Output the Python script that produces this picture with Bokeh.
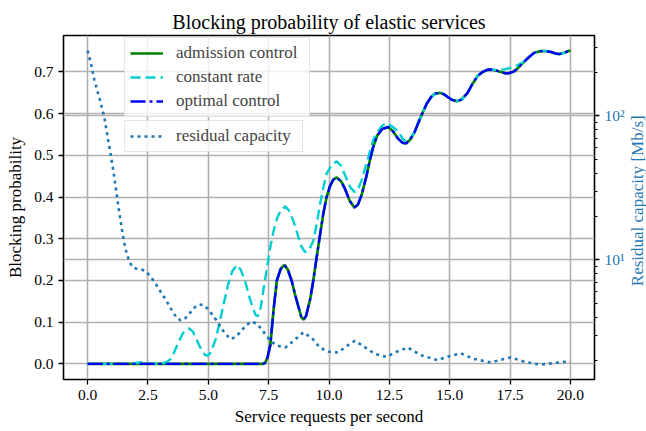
import math
from bokeh.plotting import figure
from bokeh.layouts import row
from bokeh.models import (Range1d, LogScale, LogAxis, FixedTicker, Legend, LegendItem,
                          Grid, PrintfTickFormatter, Label)
from bokeh.embed import file_html
from bokeh.resources import INLINE

# Blocking probability vs. request rate
opt_x = [0.0, 7.25, 7.35, 7.45, 7.57, 7.7, 7.84, 8.0, 8.16, 8.3, 8.46, 8.6, 8.73, 8.85, 8.94,
         9.05, 9.22, 9.35, 9.49, 9.63, 9.77, 9.9, 10.04, 10.18, 10.32, 10.5, 10.66, 10.85,
         11.05, 11.2, 11.35, 11.55, 11.7, 11.83, 12.0, 12.2, 12.45, 12.65, 12.85, 13.05,
         13.2, 13.35, 13.54, 13.7, 13.89, 14.05, 14.23, 14.4, 14.58, 14.75, 14.92, 15.1,
         15.3, 15.5, 15.74, 15.95, 16.15, 16.36, 16.55, 16.71, 16.9, 17.12, 17.3, 17.46,
         17.65, 17.81, 18.0, 18.29, 18.5, 18.77, 19.0, 19.2, 19.4, 19.55, 19.75, 20.0]
opt_y = [0.0, 0.0, 0.002, 0.015, 0.045, 0.128, 0.2, 0.228, 0.237, 0.225, 0.198, 0.165, 0.138,
         0.113, 0.106, 0.115, 0.155, 0.2, 0.256, 0.31, 0.362, 0.4, 0.426, 0.442, 0.447, 0.438,
         0.42, 0.392, 0.375, 0.382, 0.405, 0.45, 0.49, 0.52, 0.548, 0.563, 0.568, 0.558,
         0.541, 0.53, 0.529, 0.537, 0.555, 0.578, 0.604, 0.624, 0.64, 0.648, 0.65, 0.647,
         0.64, 0.633, 0.63, 0.634, 0.65, 0.672, 0.69, 0.7, 0.705, 0.706, 0.704, 0.7, 0.697,
         0.697, 0.701, 0.708, 0.72, 0.736, 0.746, 0.75, 0.75, 0.748, 0.744, 0.743, 0.746, 0.752]

adm_x = list(opt_x)
adm_y = [0.0, 0.0, 0.002, 0.015, 0.045, 0.128, 0.2, 0.228, 0.237, 0.225, 0.198, 0.165, 0.138,
         0.113, 0.106, 0.115, 0.155, 0.2, 0.256, 0.31, 0.362, 0.4, 0.426, 0.442, 0.447, 0.438,
         0.42, 0.392, 0.375, 0.382, 0.405, 0.45, 0.49, 0.52, 0.548, 0.563, 0.568, 0.558,
         0.541, 0.53, 0.529, 0.537, 0.555, 0.578, 0.604, 0.624, 0.64, 0.648, 0.65, 0.647,
         0.64, 0.633, 0.63, 0.634, 0.65, 0.672, 0.69, 0.7, 0.705, 0.706, 0.704, 0.7, 0.697,
         0.697, 0.701, 0.708, 0.72, 0.736, 0.746, 0.75, 0.75, 0.748, 0.744, 0.743, 0.746, 0.752]

const_x = [0.0, 1.8, 2.0, 2.2, 2.4, 2.6, 2.9, 3.1, 3.3, 3.44, 3.6, 3.79, 3.95, 4.1, 4.2, 4.35,
           4.54, 4.7, 4.85, 4.96, 5.1, 5.3, 5.47, 5.64, 5.82, 5.99, 6.19, 6.35, 6.54, 6.7,
           6.82, 6.95, 7.05, 7.17, 7.29, 7.43, 7.57, 7.7, 7.84, 8.0, 8.19, 8.35, 8.53, 8.7,
           8.85, 9.01, 9.17, 9.35, 9.5, 9.63, 9.78, 9.9, 10.1, 10.32, 10.5, 10.72, 10.9, 11.07,
           11.2, 11.35, 11.55, 11.7, 11.83, 12.0, 12.2, 12.4, 12.6, 12.86, 13.05, 13.2, 13.35,
           13.54, 13.7, 13.89, 14.05, 14.23, 14.4, 14.58, 14.75, 14.92, 15.1, 15.3, 15.5,
           15.74, 15.95, 16.15, 16.36, 16.55, 16.71, 16.9, 17.12, 17.3, 17.46, 17.65, 17.81,
           18.0, 18.29, 18.5, 18.77, 19.0, 19.2, 19.4, 19.55, 19.75, 20.0]
const_y = [0.0, 0.0, 0.002, 0.004, 0.003, 0.001, 0.0, 0.001, 0.005, 0.012, 0.03, 0.055, 0.074,
           0.083, 0.085, 0.078, 0.055, 0.035, 0.022, 0.019, 0.027, 0.058, 0.1, 0.145, 0.19,
           0.222, 0.237, 0.225, 0.195, 0.16, 0.138, 0.118, 0.114, 0.135, 0.18, 0.23, 0.28,
           0.318, 0.348, 0.368, 0.378, 0.367, 0.342, 0.31, 0.282, 0.268, 0.272, 0.295, 0.338,
           0.384, 0.426, 0.456, 0.476, 0.486, 0.475, 0.445, 0.422, 0.412, 0.418, 0.44, 0.48,
           0.51, 0.536, 0.556, 0.571, 0.577, 0.57, 0.558, 0.54, 0.533, 0.538, 0.556, 0.578,
           0.604, 0.624, 0.64, 0.648, 0.65, 0.647, 0.64, 0.633, 0.63, 0.634, 0.65, 0.672, 0.69,
           0.7, 0.705, 0.706, 0.705, 0.705, 0.707, 0.709, 0.713, 0.716, 0.722, 0.736, 0.746,
           0.75, 0.75, 0.748, 0.744, 0.743, 0.746, 0.752]

# Residual capacity in Mb/s (log axis)
res_x = [0.0, 0.15, 0.28, 0.49, 0.69, 0.85, 0.97, 1.08, 1.18, 1.28, 1.38, 1.5, 1.59, 1.72,
         1.86, 2.0, 2.2, 2.37, 2.6, 2.82, 3.0, 3.17, 3.35, 3.51, 3.67, 3.83, 4.0, 4.15, 4.3,
         4.45, 4.61, 4.8, 4.96, 5.2, 5.43, 5.65, 5.91, 6.1, 6.33, 6.55, 6.78, 7.0, 7.2, 7.49,
         7.8, 8.19, 8.55, 8.94, 9.3, 9.63, 10.0, 10.38, 10.7, 11.07, 11.45, 11.9, 12.38, 12.8,
         13.27, 13.8, 14.5, 15.0, 15.47, 16.0, 16.7, 17.1, 17.53, 18.1, 18.77, 19.3, 19.8, 20.0]
res_y = [284, 225, 177, 132, 98, 68, 52, 40, 30.4, 23, 17.9, 13.5, 11.6, 9.8, 8.9, 8.7, 8.6,
         8.4, 7.7, 6.8, 6.1, 5.5, 4.9, 4.4, 4.0, 3.8, 3.85, 4.1, 4.4, 4.7, 4.9, 4.85, 4.6,
         4.1, 3.6, 3.15, 2.82, 2.9, 3.15, 3.5, 3.72, 3.62, 3.3, 2.85, 2.55, 2.46, 2.75, 3.14,
         2.85, 2.45, 2.3, 2.27, 2.5, 2.74, 2.5, 2.22, 2.12, 2.3, 2.46, 2.18, 2.01, 2.15, 2.24,
         2.05, 1.94, 2.02, 2.1, 1.96, 1.87, 1.92, 1.96, 1.96]

x_ticks = [0.0, 2.5, 5.0, 7.5, 10.0, 12.5, 15.0, 17.5, 20.0]
y_ticks = [0.0, 0.1, 0.2, 0.3, 0.4, 0.5, 0.6, 0.7]
cap_major = [10, 100]
cap_minor = [2, 3, 4, 5, 6, 7, 8, 9, 20, 30, 40, 50, 60, 70, 80, 90, 200, 300]

SERIF = "Liberation Serif"
GRID = "#b0b0b0"
C0 = "#1f77b4"

p = figure(width=627, height=431, x_range=Range1d(-1, 21), y_range=Range1d(-0.0375, 0.7875),
           output_backend="svg", toolbar_location=None,
           min_border_left=63, min_border_right=30, min_border_top=35, min_border_bottom=52)
p.extra_y_ranges = {"cap": Range1d(1.476, 361)}
p.extra_y_scales = {"cap": LogScale()}

p.title.text = "Blocking probability of elastic services"
p.title.text_font = SERIF
p.title.text_font_size = "20px"
p.title.text_font_style = "normal"
p.title.align = "center"
p.title.text_color = "black"
p.title.standoff = 6

p.outline_line_color = "black"
p.outline_line_width = 1.6
p.outline_line_alpha = 1.0
p.background_fill_color = "white"
p.border_fill_color = "white"

for g in (p.xgrid[0], p.ygrid[0]):
    g.grid_line_color = GRID
    g.grid_line_width = 1.6
p.xgrid.ticker = FixedTicker(ticks=x_ticks)
p.ygrid.ticker = FixedTicker(ticks=y_ticks)

cap_grid = Grid(dimension=1, ticker=FixedTicker(ticks=cap_major), y_range_name="cap",
                grid_line_color=GRID, grid_line_width=1.6)
p.add_layout(cap_grid)

def style_axis(ax, label_color="black"):
    ax.axis_line_color = None
    ax.major_tick_in = 0
    ax.major_tick_out = 5
    ax.major_tick_line_color = "black"
    ax.major_tick_line_width = 1.3
    ax.minor_tick_in = 0
    ax.minor_tick_out = 3
    ax.minor_tick_line_color = "black"
    ax.minor_tick_line_width = 1.0
    ax.major_label_text_font = SERIF
    ax.major_label_text_font_size = "15.5px"
    ax.major_label_text_color = label_color
    ax.axis_label_text_font = SERIF
    ax.axis_label_text_font_size = "17px"
    ax.axis_label_text_font_style = "normal"
    ax.axis_label_text_color = label_color

xa = p.xaxis[0]
xa.ticker = FixedTicker(ticks=x_ticks)
xa.formatter = PrintfTickFormatter(format="%.1f")
xa.axis_label = "Service requests per second"
style_axis(xa)
xa.minor_tick_line_color = None
xa.major_label_standoff = 5
xa.axis_label_standoff = 4

ya = p.yaxis[0]
ya.ticker = FixedTicker(ticks=y_ticks)
ya.formatter = PrintfTickFormatter(format="%.1f")
ya.axis_label = "Blocking probability"
style_axis(ya)
ya.minor_tick_line_color = None
ya.major_label_standoff = 5
ya.axis_label_standoff = 6

# right-hand log axis (ticks and tick labels)
ra = LogAxis(y_range_name="cap", ticker=FixedTicker(ticks=cap_major, minor_ticks=cap_minor))
style_axis(ra, C0)
ra.major_label_overrides = {10: "10¹", 100: "10²"}
ra.major_label_standoff = 5
p.add_layout(ra, "right")

r_adm = p.line(adm_x, adm_y, line_color="#008000", line_width=2.7)
r_const = p.line(const_x, const_y, line_color="#00ced1", line_width=2.4,
                 line_dash="10 5")
r_opt = p.line(opt_x, opt_y, line_color="#0000ff", line_width=2.4,
               line_dash="15 4 3 4")
r_res = p.line(res_x, res_y, line_color=C0, line_width=2.6, line_dash="3 4",
               y_range_name="cap")

def make_legend(items, loc):
    lg = Legend(items=items, location=loc)
    lg.label_text_font = SERIF
    lg.label_text_font_size = "17px"
    lg.glyph_width = 33
    lg.glyph_height = 16
    lg.label_height = 16
    lg.label_width = 128
    lg.label_standoff = 13
    lg.spacing = 4
    lg.padding = 5
    lg.margin = 0
    lg.border_line_color = "#cccccc"
    lg.border_line_width = 1
    lg.background_fill_color = "white"
    lg.background_fill_alpha = 0.8
    return lg

leg1 = make_legend([LegendItem(label="admission control", renderers=[r_adm]),
                    LegendItem(label="constant rate", renderers=[r_const]),
                    LegendItem(label="optimal control", renderers=[r_opt])], (61, 262))
leg2 = make_legend([LegendItem(label="residual capacity", renderers=[r_res])], (61, 227))
leg2.label_width = 121
p.add_layout(leg1)
p.add_layout(leg2)

# narrow strip beside the chart carrying the right-hand axis title (bottom to top)
strip = figure(width=19, height=431, x_range=Range1d(0, 1), y_range=Range1d(0, 431),
               output_backend="svg", toolbar_location=None, min_border=0)
strip.axis.visible = False
strip.grid.visible = False
strip.outline_line_color = None
strip.background_fill_color = "white"
strip.border_fill_color = "white"
strip.add_layout(Label(x=0.5, y=224, text="Residual capacity [Mb/s]", angle=math.pi / 2,
                       text_align="center", text_baseline="middle", text_font=SERIF,
                       text_font_size="17px", text_color=C0))

open("out.html", "w").write(file_html(row(p, strip, spacing=0), INLINE))
